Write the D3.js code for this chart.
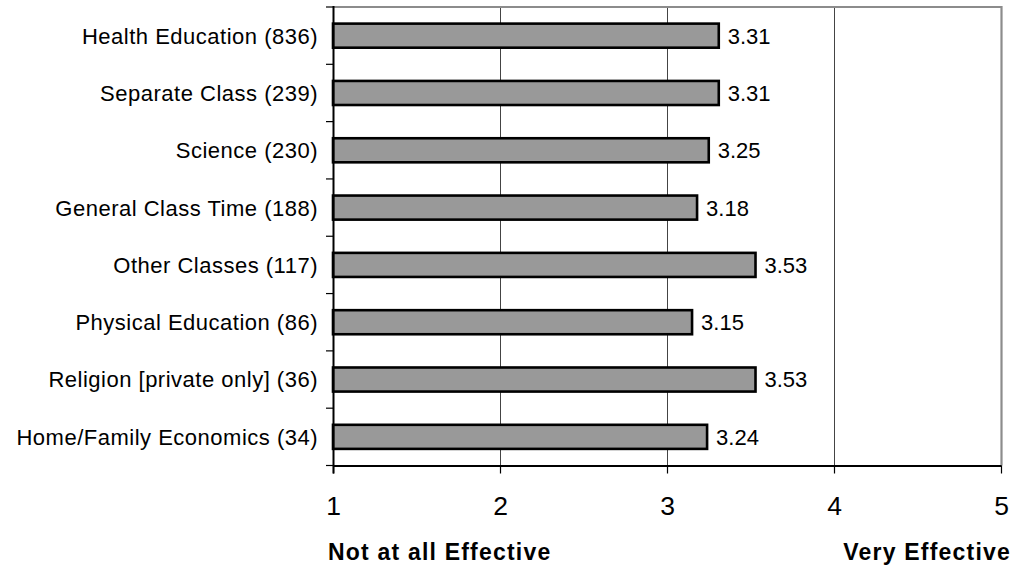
<!DOCTYPE html>
<html>
<head>
<meta charset="utf-8">
<script src="https://cdn.jsdelivr.net/npm/d3@7"></script>
<style>
  html, body { margin: 0; padding: 0; background: #fff; }
  svg { display: block; font-family: "Liberation Sans", Arial, sans-serif; }
</style>
</head>
<body>
<svg id="chart" width="1013" height="565"></svg>
<script>
const categories = [
  "Health Education (836)",
  "Separate Class (239)",
  "Science (230)",
  "General Class Time (188)",
  "Other Classes (117)",
  "Physical Education (86)",
  "Religion [private only] (36)",
  "Home/Family Economics (34)"
];
const values = [3.31, 3.31, 3.25, 3.18, 3.53, 3.15, 3.53, 3.24];
const xTicks = [1, 2, 3, 4, 5];
const xTitleLeft = "Not at all Effective";
const xTitleRight = "Very Effective";

const svg = d3.select("#chart");
const m = { left: 333, right: 1001, top: 7, bottom: 465.5 };

const x = d3.scaleLinear().domain([1, 5]).range([m.left, m.right]);
const y = d3.scaleBand().domain(categories).range([m.top, m.bottom])
  .paddingInner(0.58).paddingOuter(0.29);
const step = y.step();

// gridlines
svg.append("g").selectAll("line").data(xTicks.filter(t => t > 1 && t < 5)).join("line")
  .attr("x1", d => x(d) + 0.5).attr("x2", d => x(d) + 0.5)
  .attr("y1", m.top).attr("y2", m.bottom)
  .attr("stroke", "#444").attr("stroke-width", 1);

// top and right border (gray)
svg.append("line").attr("x1", m.left).attr("x2", m.right + 1).attr("y1", m.top).attr("y2", m.top)
  .attr("stroke", "#8c8c8c").attr("stroke-width", 2.2);
svg.append("line").attr("x1", m.right + 0.5).attr("x2", m.right + 0.5).attr("y1", m.top - 1).attr("y2", m.bottom)
  .attr("stroke", "#8c8c8c").attr("stroke-width", 2.2);

// bars
svg.append("g").selectAll("rect").data(categories).join("rect")
  .attr("x", x(1))
  .attr("y", d => y(d))
  .attr("width", (d, i) => x(values[i]) - x(1))
  .attr("height", y.bandwidth())
  .attr("fill", "#999999")
  .attr("stroke", "#000")
  .attr("stroke-width", 2.6);

// value labels
svg.append("g").selectAll("text").data(categories).join("text")
  .attr("x", (d, i) => x(values[i]) + 9)
  .attr("y", d => y(d) + y.bandwidth() / 2)
  .attr("dy", "0.36em")
  .attr("font-size", 22)
  .attr("fill", "#000")
  .text((d, i) => values[i].toFixed(2));

// y axis ticks at band boundaries
const bounds = d3.range(categories.length + 1).map(i => m.top + i * step);
svg.append("g").selectAll("line").data(bounds).join("line")
  .attr("x1", m.left - 7).attr("x2", m.left)
  .attr("y1", d => d).attr("y2", d => d)
  .attr("stroke", "#000").attr("stroke-width", 1.2);

// category labels
svg.append("g").selectAll("text").data(categories).join("text")
  .attr("x", 318)
  .attr("y", d => y(d) + y.bandwidth() / 2)
  .attr("dy", "0.36em")
  .attr("text-anchor", "end")
  .attr("font-size", 22)
  .attr("letter-spacing", 0.5)
  .attr("fill", "#000")
  .text(d => d);

// x axis
const xAxis = d3.axisBottom(x).tickValues(xTicks).tickSize(8).tickSizeOuter(0).tickFormat(d3.format("d"));
const gx = svg.append("g").attr("transform", `translate(0,${m.bottom})`).call(xAxis);
gx.select(".domain").attr("stroke", "#000").attr("stroke-width", 2);
gx.selectAll(".tick line").attr("stroke", "#000").attr("stroke-width", 1.2);
gx.selectAll(".tick text").attr("font-size", 26.5).attr("fill", "#000")
  .attr("font-family", "Liberation Sans, Arial, sans-serif")
  .attr("y", 31).attr("dy", "0.71em");

svg.append("line").attr("x1", m.left + 0.5).attr("x2", m.left + 0.5).attr("y1", m.top - 1).attr("y2", m.bottom + 8)
  .attr("stroke", "#000").attr("stroke-width", 2);

// axis titles
svg.append("text").attr("x", 328).attr("y", 560)
  .attr("font-size", 23).attr("font-weight", "bold").attr("letter-spacing", 1.2)
  .attr("fill", "#000").text(xTitleLeft);
svg.append("text").attr("x", 1011).attr("y", 560).attr("text-anchor", "end")
  .attr("font-size", 23).attr("font-weight", "bold").attr("letter-spacing", 1.2)
  .attr("fill", "#000").text(xTitleRight);
</script>
</body>
</html>
